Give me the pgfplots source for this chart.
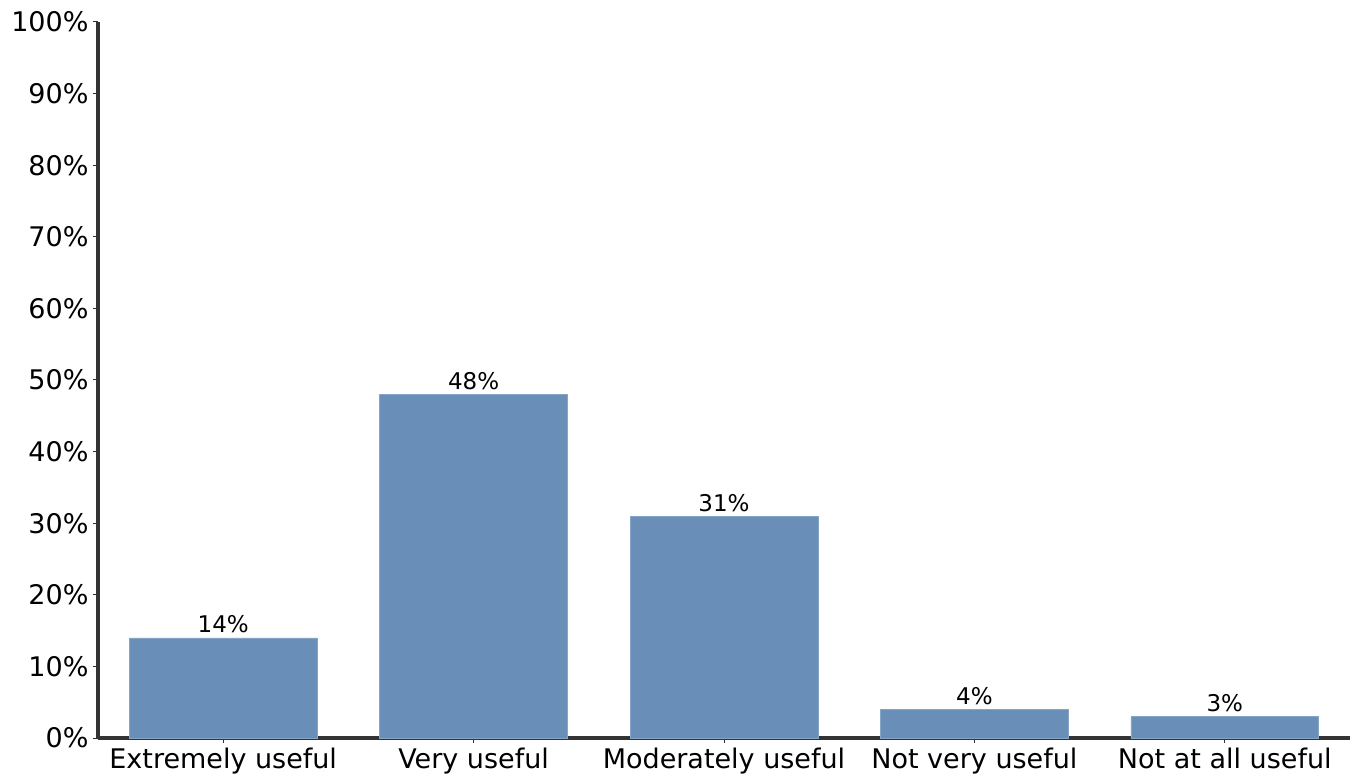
\documentclass[border=0pt]{standalone}
\usepackage{pgfplots}
\pgfplotsset{compat=1.18}
\usepackage{fontspec}
\setmainfont{DejaVu Sans}
\definecolor{barblue}{RGB}{105,143,184}
\definecolor{axisgray}{RGB}{51,51,51}
\begin{document}
\begin{tikzpicture}
\begin{axis}[
  scale only axis,
  width=1252pt, height=716pt,
  xmin=-0.5, xmax=4.5,
  ymin=0, ymax=100,
  axis x line*=bottom, axis y line*=left,
  axis line style={-, line width=3.5pt, color=axisgray},
  tick style={color=axisgray, line width=1pt},
  tick align=outside,
  major tick length=5pt,
  xtick=data,
  xticklabels={Extremely useful, Very useful, Moderately useful, Not very useful, Not at all useful},
  ytick={0,10,...,100},
  /pgf/number format/assume math mode=true,
  yticklabel={\pgfmathprintnumber{\tick}\%},
  ticklabel style={font=\fontsize{27}{32}\selectfont, text=black},
  xticklabel style={yshift=-1pt},
  yticklabel style={xshift=-1pt},
  ybar, bar width=0.75,
  nodes near coords={\pgfmathprintnumber{\pgfplotspointmeta}\%},
  nodes near coords style={font=\fontsize{23}{27}\selectfont, text=black, yshift=1pt},
  clip=false,
]
\addplot[fill=barblue, draw=barblue!80!white, line width=0.5pt] coordinates {(0,14) (1,48) (2,31) (3,4) (4,3)};
\end{axis}
\pgfresetboundingbox
\path ([shift={(-98pt,-45pt)}]current axis.south west) rectangle ([shift={(8pt,22pt)}]current axis.north east);
\end{tikzpicture}
\end{document}
